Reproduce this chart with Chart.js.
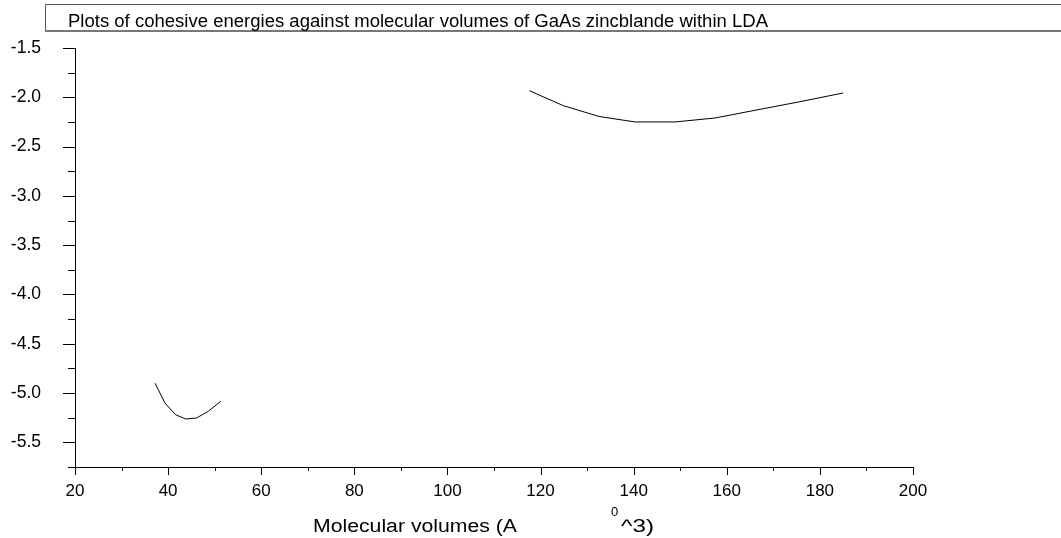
<!DOCTYPE html>
<html>
<head>
<meta charset="utf-8">
<script src="https://cdn.jsdelivr.net/npm/chart.js@4/dist/chart.umd.min.js"></script>
<style>
html,body{margin:0;padding:0;background:#fff;}
#wrap{position:relative;width:1061px;height:538px;}
</style>
</head>
<body>
<div id="wrap"><canvas id="c" width="1061" height="538"></canvas></div>
<script>
const chartTitle = "Plots of cohesive energies against molecular volumes of GaAs zincblande within LDA";
const xAxisLabel = "Molecular volumes (A";
const xAxisLabelSup = "0";
const xAxisLabelTail = "^3)";

// Low-volume branch
const volumesA = [37.2, 39.3, 41.6, 43.8, 46.1, 48.6, 51.3];
const energiesA = [-4.90, -5.10, -5.22, -5.263, -5.253, -5.186, -5.084];
// High-volume branch
const volumesB = [117.6, 124.9, 132.5, 140.3, 148.9, 157.5, 166.7, 175.7, 185.0];
const energiesB = [-1.933, -2.085, -2.194, -2.250, -2.250, -2.210, -2.126, -2.045, -1.956];

const xTicks = [20, 40, 60, 80, 100, 120, 140, 160, 180, 200];
const xMinorTicks = [30, 50, 70, 90, 110, 130, 150, 170, 190];
const yTicks = [-1.5, -2.0, -2.5, -3.0, -3.5, -4.0, -4.5, -5.0, -5.5];
const yMinorTicks = [-1.75, -2.25, -2.75, -3.25, -3.75, -4.25, -4.75, -5.25, -5.75];

const FONT = "'Liberation Sans', Arial, sans-serif";

function drawFit(ctx, text, x, y, width, size) {
  ctx.font = size + "px " + FONT;
  const w = ctx.measureText(text).width;
  ctx.save();
  ctx.translate(x, y);
  ctx.scale(width / w, 1);
  ctx.fillText(text, 0, 0);
  ctx.restore();
}

const decorPlugin = {
  id: 'decor',
  afterDraw(chart) {
    const ctx = chart.ctx;
    const xs = chart.scales.x, ys = chart.scales.y;
    const bottom = xs.top, left = ys.right;
    ctx.save();
    ctx.strokeStyle = '#000';
    ctx.lineWidth = 1;
    ctx.beginPath();
    xTicks.forEach(v => { const p = Math.round(xs.getPixelForValue(v)) + 0.5; ctx.moveTo(p, bottom); ctx.lineTo(p, bottom + 8); });
    xMinorTicks.forEach(v => { const p = Math.round(xs.getPixelForValue(v)) + 0.5; ctx.moveTo(p, bottom); ctx.lineTo(p, bottom + 4); });
    yTicks.forEach(v => { const p = Math.round(ys.getPixelForValue(v)) + 0.5; ctx.moveTo(left, p); ctx.lineTo(left - 12, p); });
    yMinorTicks.forEach(v => { const p = Math.round(ys.getPixelForValue(v)) + 0.5; ctx.moveTo(left, p); ctx.lineTo(left - 7, p); });
    ctx.stroke();

    // title box
    ctx.strokeStyle = '#555';
    ctx.lineWidth = 1;
    ctx.beginPath();
    ctx.moveTo(45.5, 31); ctx.lineTo(45.5, 4.5); ctx.lineTo(1070, 4.5);
    ctx.stroke();
    ctx.strokeStyle = '#777';
    ctx.lineWidth = 2;
    ctx.beginPath();
    ctx.moveTo(45, 31); ctx.lineTo(1070, 31);
    ctx.stroke();
    ctx.fillStyle = '#000';
    ctx.textBaseline = 'alphabetic';
    ctx.textAlign = 'left';
    drawFit(ctx, chartTitle, 68, 26.5, 700, 17.5);

    // x axis label
    drawFit(ctx, xAxisLabel, 313, 531.5, 204, 18);
    ctx.font = "13px " + FONT;
    ctx.fillText(xAxisLabelSup, 611, 516);
    drawFit(ctx, xAxisLabelTail, 621, 531.5, 33, 18);
    ctx.restore();
  }
};

new Chart(document.getElementById('c'), {
  type: 'scatter',
  data: {
    datasets: [
      { data: volumesA.map((v, i) => ({x: v, y: energiesA[i]})), showLine: true, borderColor: '#000', borderWidth: 1, pointRadius: 0, tension: 0, fill: false },
      { data: volumesB.map((v, i) => ({x: v, y: energiesB[i]})), showLine: true, borderColor: '#000', borderWidth: 1, pointRadius: 0, tension: 0, fill: false }
    ]
  },
  options: {
    responsive: false,
    animation: false,
    devicePixelRatio: 1,
    layout: { padding: { left: 0, top: 48, right: 148, bottom: 0 } },
    plugins: { legend: { display: false }, tooltip: { enabled: false }, title: { display: false } },
    scales: {
      x: {
        type: 'linear', min: 20, max: 200,
        afterBuildTicks: s => { s.ticks = xTicks.map(v => ({value: v})); },
        afterFit: s => { s.height = 71; },
        grid: { display: false },
        border: { display: true, color: '#000', width: 1 },
        ticks: { color: '#000', font: { family: FONT, size: 17 }, padding: 6, maxRotation: 0, autoSkip: false, callback: v => String(v) }
      },
      y: {
        type: 'linear', min: -5.75, max: -1.5,
        afterBuildTicks: s => { s.ticks = yTicks.map(v => ({value: v})); },
        afterFit: s => { s.width = 75; },
        grid: { display: false },
        border: { display: true, color: '#000', width: 1 },
        ticks: { color: '#000', font: { family: FONT, size: 17.5 }, padding: 26, autoSkip: false, callback: v => v.toFixed(1) }
      }
    }
  },
  plugins: [decorPlugin]
});
</script>
</body>
</html>
